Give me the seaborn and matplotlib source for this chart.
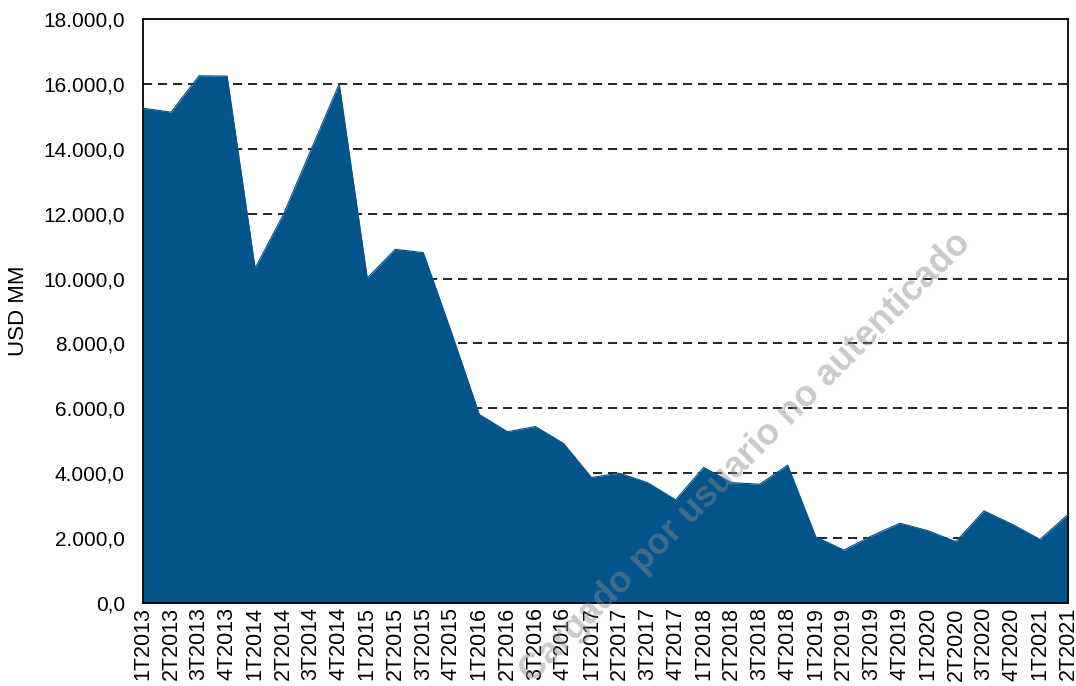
import matplotlib
matplotlib.use("Agg")
import matplotlib.pyplot as plt
import seaborn as sns
import numpy as np
import pandas as pd
from matplotlib.ticker import FuncFormatter, MultipleLocator

quarters = [
    "1T2013", "2T2013", "3T2013", "4T2013",
    "1T2014", "2T2014", "3T2014", "4T2014",
    "1T2015", "2T2015", "3T2015", "4T2015",
    "1T2016", "2T2016", "3T2016", "4T2016",
    "1T2017", "2T2017", "3T2017", "4T2017",
    "1T2018", "2T2018", "3T2018", "4T2018",
    "1T2019", "2T2019", "3T2019", "4T2019",
    "1T2020", "2T2020", "3T2020", "4T2020",
    "1T2021", "2T2021",
]
values = [
    15250, 15130, 16250, 16240,
    10320, 11960, 13980, 16000,
    10020, 10900, 10800, 8350,
    5810, 5280, 5440, 4920,
    3870, 4000, 3710, 3180,
    4180, 3710, 3660, 4250,
    2040, 1630, 2070, 2460,
    2230, 1890, 2840, 2430,
    1960, 2730,
]

df = pd.DataFrame({"q": quarters, "v": values})
df["i"] = np.arange(len(df))

sns.set_theme(style="white")
plt.rcParams["font.family"] = ["Liberation Sans", "DejaVu Sans"]

fig = plt.figure(figsize=(10.76, 6.86), dpi=100)
ax = fig.add_axes([143 / 1076, 1 - 603 / 686, (1068 - 143) / 1076, (603 - 19) / 686])

color = "#02548A"
ax.fill_between(df["i"], 0, df["v"], color=color, linewidth=0, zorder=2)
sns.lineplot(data=df, x="i", y="v", ax=ax, color=color, linewidth=0.8, zorder=3)

ax.set_xlim(0, len(df) - 1)
ax.set_ylim(0, 18000)
ax.yaxis.set_major_locator(MultipleLocator(2000))
ax.yaxis.set_major_formatter(FuncFormatter(lambda v, p: f"{v:,.1f}".replace(",", "X").replace(".", ",").replace("X", ".")))
ax.set_xticks(df["i"])
ax.set_xticklabels(df["q"], rotation=90, fontsize=15.5, color="black")
ax.tick_params(axis="y", labelsize=15, labelcolor="black", length=0, pad=13)
ax.tick_params(axis="x", length=0, pad=3)
ax.set_xlabel("")
ax.set_ylabel("USD MM", fontsize=16, color="black", labelpad=10)

for y in range(2000, 18000, 2000):
    ax.axhline(y, color="black", linestyle=(0, (5.5, 3.5)), linewidth=1.2, zorder=1)

for s in ax.spines.values():
    s.set_visible(True)
    s.set_color("black")
    s.set_linewidth(1.3)
ax.set_axisbelow(True)

fig.text(745 / 1076, 1 - 458 / 686, "Cargado por usuario no autenticado",
         rotation=45, ha="center", va="center", fontsize=26, fontweight="bold",
         color="#8a8a8a", alpha=0.45, zorder=10)

fig.savefig("out.png", dpi=100)
